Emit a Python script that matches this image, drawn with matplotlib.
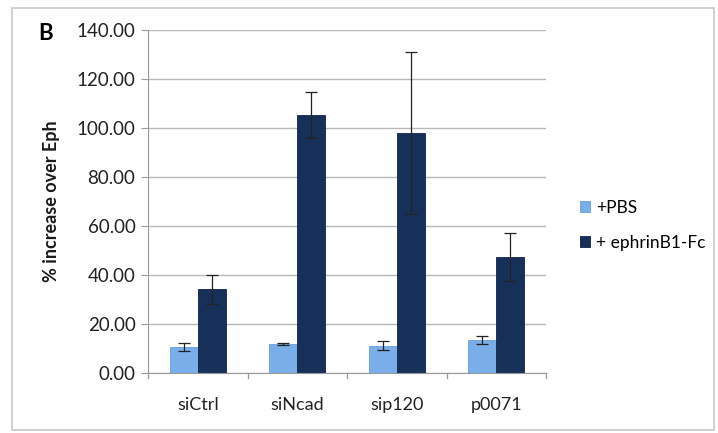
import numpy as np
import matplotlib.pyplot as plt
from matplotlib.patches import Rectangle

plt.rcParams['font.family'] = ['Lato', 'DejaVu Sans']

groups = ['siCtrl', 'siNcad', 'sip120', 'p0071']
pbs = [10.7, 11.8, 11.2, 13.5]
pbs_err = [1.6, 0.5, 2.0, 1.8]
ephrin = [34.2, 105.3, 98.1, 47.2]
ephrin_err = [6.0, 9.5, 33.0, 9.8]
series_names = ['+PBS', '+ ephrinB1-Fc']
yticks = [0, 20, 40, 60, 80, 100, 120, 140]

fig = plt.figure(figsize=(7.18, 4.33), dpi=100)

# outer light frame around the whole panel
fig.patches.append(Rectangle((12 / 718, 3 / 433), 702 / 718, 422 / 433,
                             transform=fig.transFigure, fill=False,
                             edgecolor='#c8c8c8', linewidth=1.2))

ax = fig.add_axes([148 / 718, 1 - 373 / 433, 398 / 718, 343 / 433])

x = np.arange(len(groups))
w = 0.28
b1 = ax.bar(x - w / 2, pbs, w, color='#7aaee8', edgecolor='#6b9fd9', linewidth=0.6,
            label=series_names[0], zorder=2)
b2 = ax.bar(x + w / 2, ephrin, w, color='#17305a', edgecolor='#0f2446', linewidth=0.6,
            label=series_names[1], zorder=2)
ax.errorbar(x - w / 2, pbs, yerr=pbs_err, fmt='none', ecolor='#222222',
            elinewidth=0.9, capsize=4, capthick=0.9, zorder=3)
ax.errorbar(x + w / 2, ephrin, yerr=ephrin_err, fmt='none', ecolor='#222222',
            elinewidth=0.9, capsize=4, capthick=0.9, zorder=3)

ax.set_xlim(-0.5, len(groups) - 0.5)
ax.set_ylim(0, 140)
ax.set_yticks(yticks)
ax.set_yticklabels([f'{v:.2f}' for v in yticks], fontsize=13.5, color='#222222')
ax.yaxis.grid(True, color='#b8b8b8', linewidth=1.0, zorder=0)
ax.set_axisbelow(True)

ax.set_xticks(x)
ax.set_xticklabels(groups, fontsize=13, color='#222222')
ax.tick_params(axis='x', length=0, pad=17)
# category separators on the x axis
for xs in np.arange(-0.5, len(groups), 1.0):
    ax.plot([xs, xs], [0, -2.2], color='#999999', linewidth=0.9, clip_on=False)
ax.tick_params(axis='y', length=5, color='#999999', pad=4)

for s in ['top', 'right']:
    ax.spines[s].set_visible(False)
ax.spines['left'].set_color('#999999')
ax.spines['bottom'].set_color('#999999')

ax.set_ylabel('% increase over Eph', fontsize=13, fontweight='bold',
              color='#1a1a1a', labelpad=12)

fig.text(38 / 718, 1 - 34 / 433, 'B', fontsize=16, fontweight='bold', va='center',
         ha='left')

ax.legend(handles=[b1, b2], loc='center left', bbox_to_anchor=(1.085, 0.43),
          frameon=False, fontsize=12.5, handlelength=0.6, handleheight=0.6,
          handletextpad=0.35, labelspacing=1.1, borderpad=0, borderaxespad=0)

fig.savefig('out.png', dpi=100)
